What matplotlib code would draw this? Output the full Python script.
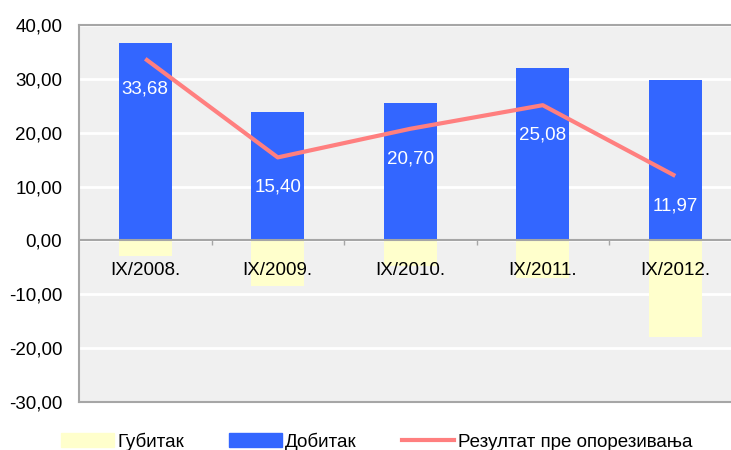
import matplotlib
matplotlib.use("Agg")
import matplotlib.pyplot as plt
from matplotlib.patches import Patch
from matplotlib.lines import Line2D

# podaci
periods = ["IX/2008.", "IX/2009.", "IX/2010.", "IX/2011.", "IX/2012."]
dobitak = [36.60, 23.90, 25.40, 32.00, 29.80]
gubitak = [-2.92, -8.50, -4.70, -6.92, -17.83]
rezultat = [33.68, 15.40, 20.70, 25.08, 11.97]

plt.rcParams['font.family'] = ['Liberation Sans', 'DejaVu Sans']

blue = "#3366FF"
yellow = "#FFFFCC"
salmon = "#FF7F7F"
gray = "#A6A6A6"

fig = plt.figure(figsize=(7.31, 4.5), dpi=100)
ax = fig.add_axes([79 / 731, 47.7 / 450, 662.5 / 731, 377.6 / 450])
ax.set_facecolor("#F0F0F0")

x = list(range(len(periods)))
ax.bar(x, dobitak, width=0.4, color=blue, zorder=2)
ax.bar(x, gubitak, width=0.4, color=yellow, zorder=2)
ax.plot(x, rezultat, color=salmon, lw=3, zorder=4, solid_capstyle="butt")

# vrijednosti rezultata ispod tacaka linije
for i, v in enumerate(rezultat):
    ax.annotate(f"{v:.2f}".replace(".", ","), xy=(i, v), xytext=(0, -30),
                textcoords="offset pixels", ha="center", va="center",
                color="white", fontsize=13.5, zorder=5)

# nazivi perioda ispod nulte linije
for i, p in enumerate(periods):
    ax.annotate(p, xy=(i, 0), xytext=(0, -30), textcoords="offset pixels",
                ha="center", va="center", color="black", fontsize=13.5, zorder=5)

ax.set_xlim(-0.5, 4.5)
ax.set_ylim(-30, 40)
ax.set_yticks(range(-30, 41, 10))
ax.set_yticklabels([f"{t:.2f}".replace(".", ",") for t in range(-30, 41, 10)], fontsize=13.5)
ax.tick_params(axis="y", length=0, pad=12)
ax.set_xticks([])
ax.grid(axis="y", color="white", lw=2, zorder=1)
ax.set_axisbelow(True)

ax.axhline(0, color=gray, lw=1.5, zorder=3)
ax.vlines([0.5, 1.5, 2.5, 3.5], -0.9, 0, color=gray, lw=1, zorder=3)

for s in ["left", "bottom", "top"]:
    ax.spines[s].set_color(gray)
    ax.spines[s].set_linewidth(1.5)
ax.spines["right"].set_visible(False)

handles = [Patch(color=yellow), Patch(color=blue), Line2D([], [], color=salmon, lw=3)]
labels = ["Губитак", "Добитак", "Резултат пре опорезивања"]
fig.legend(handles, labels, loc="center left", bbox_to_anchor=(61 / 731, 1 - 441.5 / 450),
           ncol=3, frameon=False, fontsize=13.5, handlelength=2.8, handleheight=0.75,
           handletextpad=0.2, columnspacing=2.4, borderpad=0, borderaxespad=0)

fig.savefig("out.png", dpi=100)
